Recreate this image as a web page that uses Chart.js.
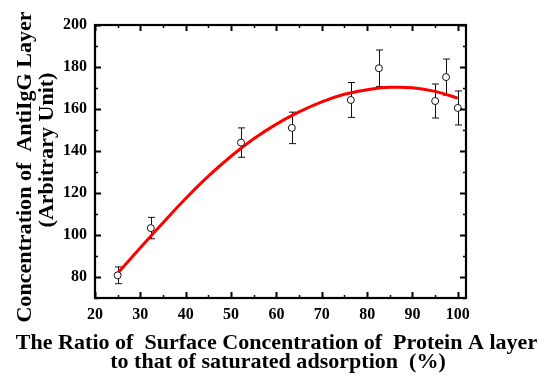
<!DOCTYPE html>
<html>
<head>
<meta charset="utf-8">
<script src="https://cdn.jsdelivr.net/npm/chart.js@4/dist/chart.umd.min.js"></script>
<style>
  html, body { margin: 0; padding: 0; background: #fff; }
  #wrap { width: 538px; height: 381px; }
</style>
</head>
<body>
<div id="wrap"><canvas id="c" width="538" height="381"></canvas></div>
<script>
// ---- data ----
const pointX   = [25.0, 32.3, 52.2, 63.4, 76.4, 82.6, 95.0, 97.4, 100.0];
const pointY   = [80.8, 103.3, 144.0, 151.0, 164.3, 179.4, 163.8, 175.2, 160.5];
const pointErr = [4.0, 5.1, 7.0, 7.5, 8.3, 8.7, 8.1, 8.6, 8.1];

const fitX = [25, 30, 35, 40, 45, 50, 55, 60, 65, 70, 75, 80, 85, 90, 95, 100];
const fitY = [81.8, 93.9, 105.8, 117.35, 128.0, 137.5, 145.8, 152.8, 158.6, 163.4, 167.0, 169.2, 170.3, 170.1, 168.4, 165.2];

const xTickValues = [20, 25, 30, 35, 40, 45, 50, 55, 60, 65, 70, 75, 80, 85, 90, 95, 100];
const yTickValues = [70, 80, 90, 100, 110, 120, 130, 140, 150, 160, 170, 180, 190, 200];
const xLabelValues = [20, 30, 40, 50, 60, 70, 80, 90, 100];
const yLabelValues = [80, 100, 120, 140, 160, 180, 200];

const xTitleLines = ['The Ratio of  Surface Concentration of  Protein A layer', 'to that of saturated adsorption  (%)'];
const yTitleLines = ['Concentration of  AntiIgG Layer', '(Arbitrary Unit)'];

const FONT = '"Liberation Serif", "Times New Roman", serif';

function stretchedText(ctx, text, x, y, rot, sx) {
  ctx.save();
  ctx.translate(x, y);
  ctx.rotate(rot);
  ctx.scale(sx, 1);
  ctx.fillText(text, 0, 0);
  ctx.restore();
}

const decor = {
  id: 'decor',
  beforeDatasetsDraw(chart) {
    const ctx = chart.ctx, xs = chart.scales.x, ys = chart.scales.y;
    ctx.save();
    ctx.strokeStyle = '#111';
    ctx.lineWidth = 1;
    pointX.forEach((xv, i) => {
      const px = Math.round(xs.getPixelForValue(xv)) + 0.5;
      const top = ys.getPixelForValue(pointY[i] + pointErr[i]);
      const bot = ys.getPixelForValue(pointY[i] - pointErr[i]);
      ctx.beginPath();
      ctx.moveTo(px, top); ctx.lineTo(px, bot);
      ctx.moveTo(px - 3.5, top); ctx.lineTo(px + 3.5, top);
      ctx.moveTo(px - 3.5, bot); ctx.lineTo(px + 3.5, bot);
      ctx.stroke();
    });
    ctx.restore();
  },
  afterDatasetsDraw(chart) {
    const ctx = chart.ctx, xs = chart.scales.x, ys = chart.scales.y;
    const a = chart.chartArea;
    ctx.save();
    ctx.strokeStyle = '#000';
    xTickValues.forEach(v => {
      const major = xLabelValues.includes(v);
      const len = major ? 6 : 3;
      const px = Math.round(xs.getPixelForValue(v)) + 0.5;
      ctx.lineWidth = major ? 2 : 1.5;
      ctx.beginPath();
      ctx.moveTo(px, a.bottom); ctx.lineTo(px, a.bottom - len);
      ctx.moveTo(px, a.top); ctx.lineTo(px, a.top + len);
      ctx.stroke();
    });
    yTickValues.forEach(v => {
      const major = yLabelValues.includes(v);
      const len = major ? 6 : 3;
      const py = Math.round(ys.getPixelForValue(v)) + 0.5;
      ctx.lineWidth = major ? 2 : 1.5;
      ctx.beginPath();
      ctx.moveTo(a.left, py); ctx.lineTo(a.left + len, py);
      ctx.moveTo(a.right, py); ctx.lineTo(a.right - len, py);
      ctx.stroke();
    });
    ctx.lineWidth = 2.2;
    ctx.strokeRect(a.left, a.top, a.right - a.left, a.bottom - a.top);
    ctx.restore();
  },
  afterDraw(chart) {
    const ctx = chart.ctx;
    ctx.save();
    ctx.fillStyle = '#000';
    ctx.font = 'bold 21px ' + FONT;
    ctx.textAlign = 'center';
    ctx.textBaseline = 'alphabetic';
    stretchedText(ctx, xTitleLines[0], 276.5, 349, 0, 1.05);
    stretchedText(ctx, xTitleLines[1], 278, 368, 0, 1.05);
    stretchedText(ctx, yTitleLines[0], 31, 167, -Math.PI / 2, 1.05);
    stretchedText(ctx, yTitleLines[1], 53, 150, -Math.PI / 2, 1.05);
    ctx.restore();
  }
};

new Chart(document.getElementById('c'), {
  type: 'scatter',
  data: {
    datasets: [
      {
        label: 'data',
        data: pointX.map((x, i) => ({ x: x, y: pointY[i] })),
        pointStyle: 'circle',
        pointRadius: 3.5,
        pointBackgroundColor: '#fff',
        pointBorderColor: '#111',
        pointBorderWidth: 1,
        showLine: false,
        order: 0
      },
      {
        label: 'fit',
        data: fitX.map((x, i) => ({ x: x, y: fitY[i] })),
        showLine: true,
        borderColor: '#ff0000',
        borderWidth: 3,
        pointRadius: 0,
        tension: 0.4,
        fill: false,
        order: 1
      }
    ]
  },
  options: {
    responsive: false,
    devicePixelRatio: 1,
    animation: false,
    layout: { padding: { top: 25, right: 72, left: 0, bottom: 0 } },
    plugins: { legend: { display: false }, tooltip: { enabled: false } },
    scales: {
      x: {
        type: 'linear',
        min: 20,
        max: 101.8,
        grid: { display: false, drawTicks: false },
        border: { display: false },
        afterBuildTicks: s => { s.ticks = xTickValues.map(v => ({ value: v })); },
        afterFit: s => { s.height = 83; },
        ticks: {
          autoSkip: false,
          maxRotation: 0,
          padding: 7,
          color: '#000',
          font: { family: FONT, size: 16, weight: 'bold' },
          callback: v => xLabelValues.includes(v) ? String(v) : ''
        }
      },
      y: {
        type: 'linear',
        min: 70,
        max: 200,
        grid: { display: false, drawTicks: false },
        border: { display: false },
        afterBuildTicks: s => { s.ticks = yTickValues.map(v => ({ value: v })); },
        afterFit: s => { s.width = 95; },
        ticks: {
          autoSkip: false,
          padding: 8,
          color: '#000',
          font: { family: FONT, size: 16, weight: 'bold' },
          callback: v => yLabelValues.includes(v) ? String(v) : ''
        }
      }
    }
  },
  plugins: [decor]
});
</script>
</body>
</html>
